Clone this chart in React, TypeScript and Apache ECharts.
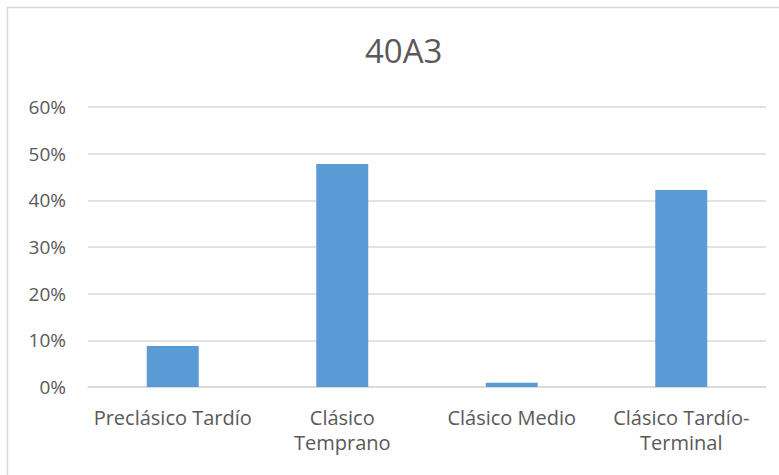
import React, { useEffect, useRef } from "react";
import * as echarts from "echarts";

const title = "40A3";
const categories = ["Preclásico Tardío", "Clásico\nTemprano", "Clásico Medio", "Clásico Tardío-\nTerminal"];
const values = [8.8, 47.8, 0.9, 42.2];
const yTicks = { min: 0, max: 60, interval: 10 };

export default function App() {
  const ref = useRef<HTMLDivElement>(null);
  useEffect(() => {
    const chart = echarts.init(ref.current!, null, { renderer: "svg" });
    const font = "'Open Sans', 'Liberation Sans', sans-serif";
    chart.setOption({
      animation: false,
      backgroundColor: "#ffffff",
      title: {
        text: title,
        left: 360,
        top: 29,
        textStyle: { fontFamily: font, fontSize: 33, fontWeight: "normal", color: "#595959" },
      },
      graphic: [
        {
          type: "rect",
          shape: { x: 7.5, y: 7.5, width: 800, height: 500 },
          style: { fill: "none", stroke: "#d9d9d9", lineWidth: 1.5 },
          silent: true,
        },
      ],
      grid: { left: 88, right: 13, top: 107, bottom: 88, containLabel: false },
      xAxis: {
        type: "category",
        data: categories,
        axisLine: { show: true, lineStyle: { color: "#d9d9d9", width: 1.5 } },
        axisTick: { show: false },
        axisLabel: {
          interval: 0,
          margin: 18,
          fontFamily: font,
          fontSize: 20,
          lineHeight: 25,
          color: "#595959",
        },
      },
      yAxis: {
        type: "value",
        min: yTicks.min,
        max: yTicks.max,
        interval: yTicks.interval,
        axisLine: { show: false },
        axisTick: { show: false },
        splitLine: { lineStyle: { color: "#d9d9d9", width: 1.5 } },
        axisLabel: {
          formatter: "{value}%",
          margin: 22,
          fontFamily: font,
          fontSize: 19,
          color: "#595959",
        },
      },
      series: [
        {
          type: "bar",
          data: values,
          barWidth: 52,
          itemStyle: { color: "#5b9bd5" },
        },
      ],
    });
    return () => chart.dispose();
  }, []);
  return (
    <div
      ref={ref}
      style={{ position: "absolute", left: 0, top: 0, width: 779, height: 475 }}
    />
  );
}
